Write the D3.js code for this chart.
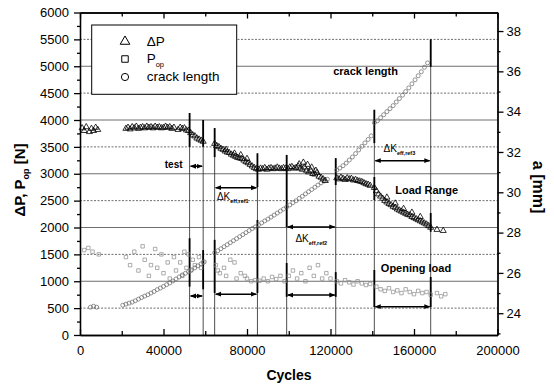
<!DOCTYPE html>
<html>
<head>
<meta charset="utf-8">
<script src="https://cdn.jsdelivr.net/npm/d3@7/dist/d3.min.js"></script>
<style>
	body { margin: 0; background: #fff; }
	svg, svg text { font-family: Arial, "Liberation Sans", Helvetica, sans-serif; }
</style>
</head>
<body>
<div id="chart"></div>
<script>

// DATA
// load range dP [cycles, N]
const deltaP = [
	[1000,3850],[2000,3800],[3000,3870],[4500,3780],[5500,3840],[6500,3800],[7500,3860],[8500,3820],
	[22000,3840],[23000,3860],[24000,3830],[25000,3870],[26000,3850],[27000,3880],[28000,3840],[29000,3860],
	[30000,3870],[31000,3850],[32000,3880],[33000,3860],[34000,3870],[35000,3850],[36000,3880],[37000,3860],
	[38000,3870],[39000,3850],[40000,3860],[41000,3880],[42000,3860],[43000,3870],[44000,3840],[45000,3860],
	[47000,3820],[48000,3860],[49000,3840],[50000,3850],[51000,3810],[52000,3800],
	[53000,3760],[54000,3720],[55000,3700],[56000,3660],[57000,3640],[58000,3620],[59000,3600],
	[64500,3560],[65500,3520],[66500,3500],[67500,3470],[68500,3450],[69500,3420],[70500,3400],[71500,3390],
	[72500,3360],[73500,3340],[74500,3320],[75500,3300],[76500,3290],[77500,3280],[78500,3250],[79500,3220],
	[80500,3200],[81500,3170],[82500,3140],[83500,3110],[84500,3090],
	[70000,3450],[74000,3380],[77000,3350],[80000,3280],
	[85500,3080],[86500,3100],[87500,3090],[88500,3110],[89500,3080],[90500,3100],[91500,3110],[92500,3090],
	[93500,3100],[94500,3120],[95500,3100],[96500,3090],[97500,3110],[98500,3100],[99500,3090],[100500,3120],
	[101500,3130],[102500,3100],[103500,3110],[104500,3140],[105500,3100],[106500,3080],[107500,3120],[108500,3060],
	[109500,3030],[110500,3060],[111500,3000],[112500,2990],[113500,3020],[114500,2950],[115500,2930],[116500,2900],
	[117500,2870],
	[105000,3180],[107000,3210],[109000,3170],[111000,3120],[113000,3060],
	[123000,2920],[124000,2900],[125000,2930],[126000,2910],[127000,2890],[128000,2920],[129000,2900],[130000,2910],
	[131000,2880],[132000,2890],[133000,2870],[134000,2860],[135000,2850],[136000,2830],[137000,2810],[138000,2800],
	[139000,2780],
	[141000,2740],[142000,2680],[143000,2620],[144000,2580],[145000,2540],[146000,2500],[147000,2470],[148000,2440],
	[149000,2420],[150000,2390],[151000,2370],[152000,2340],[153000,2320],[154000,2300],[155000,2280],[156000,2260],
	[157000,2240],[158000,2230],[159000,2200],[160000,2180],[161000,2160],[162000,2140],[163000,2120],[164000,2100],
	[165000,2080],[166000,2060],[167000,2030],[168000,2000],
	[147000,2560],[151000,2450],[155000,2350],[159000,2280],[163000,2200],
	[171000,1960],[174000,1940]
];

// opening load Pop [cycles, N]
const pOpen = [
	[2000,1580],[4000,1620],[6000,1550],[9000,1500],
	[22000,1450],[24000,1300],[26000,1550],[28000,1200],[30000,1650],[31000,1400],[33000,1100],[34000,1300],
	[36000,1600],[37000,1250],[39000,1500],[40000,1150],[42000,1350],[43000,1050],[45000,1450],[46000,1200],
	[48000,1350],[49000,1100],[50000,1550],[51000,1250],[52000,1500],[53000,1200],[54000,1400],[55000,1300],
	[57000,1450],[58000,1250],[59000,1350],
	[65000,1300],[66000,1200],[67000,1150],[69000,1250],[70000,1100],[72000,1400],[74000,1350],[75000,1050],
	[77000,1150],[79000,1100],[80000,1050],[82000,1000],[84000,1020],
	[86000,1010],[88000,1050],[90000,1000],[92000,1080],[94000,1040],[96000,1100],[98000,1000],
	[100000,1100],[102000,1200],[104000,1050],[106000,1150],[108000,1000],[110000,1250],[112000,1100],[114000,1300],
	[116000,1050],[118000,1150],[120000,1050],
	[123000,1000],[125000,960],[127000,1020],[129000,980],[131000,940],[133000,1000],[135000,960],[137000,930],
	[139000,950],
	[142000,900],[144000,850],[146000,820],[148000,870],[150000,800],[152000,830],[154000,780],[156000,850],
	[158000,800],[160000,760],[162000,820],[164000,780],[166000,800],[168000,750],
	[171000,780],[173000,720],[175000,760]
];

// crack length a [cycles, mm]
const crack = [
	[5000,24.3],[6500,24.35],[8000,24.3],
	[20500,24.4],[22000,24.45],[23500,24.5],[25000,24.55],[26500,24.62],[28000,24.7],[29500,24.78],[31000,24.85],
	[32500,24.92],[34000,25.0],[35500,25.08],[37000,25.17],[38500,25.25],[40000,25.33],[41500,25.42],[43000,25.5],
	[44500,25.6],[46000,25.7],[47500,25.8],[49000,25.9],[50500,25.98],[52000,26.06],[53500,26.15],[55000,26.25],
	[56500,26.35],[58000,26.45],[59500,26.55],
	[64500,27.0],[66000,27.1],[67500,27.2],[69000,27.3],[70500,27.4],[72000,27.5],[73500,27.6],[75000,27.7],
	[76500,27.8],[78000,27.9],[79500,28.0],[81000,28.1],[82500,28.2],[84000,28.28],[85500,28.38],[87000,28.48],
	[88500,28.58],[90000,28.67],[91500,28.77],[93000,28.87],[94500,28.97],[96000,29.07],[97500,29.17],[99000,29.27],
	[100500,29.37],[102000,29.48],[103500,29.58],[105000,29.7],[106500,29.8],[108000,29.92],[109500,30.03],[111000,30.14],
	[112500,30.25],[114000,30.36],[115500,30.47],[117000,30.56],[118500,30.65],
	[123000,31.1],[124500,31.2],[126000,31.32],[127500,31.45],[129000,31.6],[130500,31.75],[132000,31.92],[133500,32.1],
	[135000,32.28],[136500,32.45],[138000,32.62],[139500,32.8],
	[141000,33.45],[142500,33.55],[144000,33.7],[145500,33.85],[147000,34.0],[148500,34.15],[150000,34.3],[151500,34.48],
	[153000,34.65],[154500,34.82],[156000,35.0],[157500,35.18],[159000,35.38],[160500,35.58],[162000,35.78],[163500,35.98],
	[165000,36.2],[166500,36.42]
];

// block boundaries (cycles) and how high each marker line reaches (N)
const blockCycles = [52500, 59000, 64500, 85000, 99000, 122500, 141000, 168000];
const blockTop = [4130, 4000, 3850, 3380, 3350, 3290, 4190, 5500];
// heavy parts of the boundary lines [cycles, from N, to N]
const blockHeavy = [
	[52500,3500,4130],[52500,900,1800],[59000,3500,4000],[59000,850,1580],
	[64500,3310,3850],[64500,780,1770],[85000,2750,3380],[85000,780,2140],
	[99000,2010,3350],[99000,710,1340],[122500,2790,3290],[122500,710,1170],
	[141000,3570,4190],[141000,2510,2940],[141000,520,1210],
	[168000,4990,5500],[168000,1920,2270],[168000,520,1080]
];

// range arrows
const rangeFrom = [52500, 52500, 64500, 64500, 99000, 99000, 141000, 141000];
const rangeTo = [59000, 59000, 85000, 85000, 122500, 122500, 168000, 168000];
const rangeLevel = [3140, 726, 2740, 760, 2010, 744, 3243, 527];

// text notes
const noteText = ["crack length", "Load Range", "Opening load", "test"];
const noteX = [136800, 166080, 160950, 44880];
const noteY = [4828, 2614, 1172, 3101];

const refSub = ["eff,ref1", "eff,ref2", "eff,ref3"];
const refX = [65600, 103200, 145400];
const refY = [2512, 1730, 3405];

// ticks
const xTicks = [0, 40000, 80000, 120000, 160000, 200000];
const xMinor = [20000, 60000, 100000, 140000, 180000];
const yTicks = d3.range(0, 6001, 500);
const yMinor = d3.range(250, 6000, 500);
const aTicks = [24, 26, 28, 30, 32, 34, 36, 38];
const aMinor = [23, 25, 27, 29, 31, 33, 35, 37];


// CHART
function drawChart() {
	const w = 554;
	const h = 386;
	const left = 80, right = 497.5, top = 12.5, bottom = 335;

	const x = d3.scaleLinear().domain([0, 200000]).range([left, right]);
	const y = d3.scaleLinear().domain([0, 6000]).range([bottom, top]);
	const yA = d3.scaleLinear().domain([22.92, 38.92]).range([bottom, top]);

	const svg = d3.select("#chart")
		.append("svg")
		.attr("width", w)
		.attr("height", h);

	// arrow head
	svg.append("defs").append("marker")
		.attr("id", "head")
		.attr("viewBox", "0 0 10 10")
		.attr("refX", 9).attr("refY", 5)
		.attr("markerWidth", 4).attr("markerHeight", 4)
		.attr("orient", "auto-start-reverse")
		.append("path")
		.attr("d", "M0,1L10,5L0,9z")
		.attr("fill", "#000");

	// grid
	svg.append("g")
		.selectAll("line")
		.data(yTicks.filter(v => v > 0 && v < 6000))
		.join("line")
		.attr("x1", left).attr("x2", right)
		.attr("y1", d => y(d)).attr("y2", d => y(d))
		.attr("stroke", "#4a4a4a")
		.attr("stroke-width", 0.8)
		.attr("stroke-dasharray", d => d % 1000 === 0 ? null : "2,1.5");

	// block lines
	svg.append("g")
		.selectAll("line")
		.data(blockCycles)
		.join("line")
		.attr("x1", d => x(d)).attr("x2", d => x(d))
		.attr("y1", bottom).attr("y2", (d, i) => y(blockTop[i]))
		.attr("stroke", "#222")
		.attr("stroke-width", 0.8);
	svg.append("g")
		.selectAll("line")
		.data(blockHeavy)
		.join("line")
		.attr("x1", d => x(d[0])).attr("x2", d => x(d[0]))
		.attr("y1", d => y(d[1])).attr("y2", d => y(d[2]))
		.attr("stroke", "#000")
		.attr("stroke-width", 1.8);

	// range arrows
	svg.append("g")
		.selectAll("line")
		.data(rangeLevel)
		.join("line")
		.attr("x1", (d, i) => x(rangeFrom[i]) + 1).attr("x2", (d, i) => x(rangeTo[i]) - 1)
		.attr("y1", d => y(d)).attr("y2", d => y(d))
		.attr("stroke", "#000")
		.attr("stroke-width", 1.5)
		.attr("marker-start", "url(#head)")
		.attr("marker-end", "url(#head)");

	// opening load
	const sq = d3.symbol(d3.symbolSquare, 12)();
	svg.append("g")
		.selectAll("path")
		.data(pOpen)
		.join("path")
		.attr("d", sq)
		.attr("transform", d => `translate(${x(d[0])},${y(d[1])})`)
		.attr("fill", "none")
		.attr("stroke", "#8a8a8a")
		.attr("stroke-width", 0.7);

	// crack length
	svg.append("g")
		.selectAll("circle")
		.data(crack)
		.join("circle")
		.attr("cx", d => x(d[0]))
		.attr("cy", d => yA(d[1]))
		.attr("r", 2)
		.attr("fill", "none")
		.attr("stroke", "#666")
		.attr("stroke-width", 0.7);

	// load range
	const tri = d3.symbol(d3.symbolTriangle, 16)();
	svg.append("g")
		.selectAll("path")
		.data(deltaP)
		.join("path")
		.attr("d", tri)
		.attr("transform", d => `translate(${x(d[0])},${y(d[1])})`)
		.attr("fill", "none")
		.attr("stroke", "#000")
		.attr("stroke-width", 0.8);

	// axes
	const fmt = d3.format("d");
	const styleAxis = g => {
		g.attr("font-family", null).attr("font-size", null);
		g.selectAll("path, line").attr("stroke", "#000").attr("stroke-width", 1.3);
		g.selectAll("text").attr("fill", "#000").style("font-size", "13px");
	};
	svg.append("g")
		.attr("transform", `translate(${left},0)`)
		.call(d3.axisLeft(y).tickValues(yTicks).tickSize(6).tickSizeOuter(0).tickPadding(5).tickFormat(fmt))
		.call(styleAxis);
	svg.append("g")
		.attr("transform", `translate(${left},0)`)
		.call(d3.axisLeft(y).tickValues(yMinor).tickSize(3).tickSizeOuter(0).tickFormat(""))
		.call(styleAxis);
	svg.append("g")
		.attr("transform", `translate(0,${bottom})`)
		.call(d3.axisBottom(x).tickValues(xTicks).tickSize(-6).tickSizeOuter(0).tickPadding(11).tickFormat(fmt))
		.call(styleAxis);
	svg.append("g")
		.attr("transform", `translate(0,${bottom})`)
		.call(d3.axisBottom(x).tickValues(xMinor).tickSize(-4).tickSizeOuter(0).tickFormat(""))
		.call(styleAxis);
	svg.append("g")
		.attr("transform", `translate(0,${top})`)
		.call(d3.axisTop(x).tickValues(xTicks).tickSize(-6).tickSizeOuter(0).tickFormat(""))
		.call(styleAxis);
	svg.append("g")
		.attr("transform", `translate(0,${top})`)
		.call(d3.axisTop(x).tickValues(xMinor).tickSize(-4).tickSizeOuter(0).tickFormat(""))
		.call(styleAxis);
	svg.append("g")
		.attr("transform", `translate(${right},0)`)
		.call(d3.axisRight(yA).tickValues(aTicks).tickSize(6).tickSizeOuter(0).tickPadding(3).tickFormat(fmt))
		.call(styleAxis);
	svg.append("g")
		.attr("transform", `translate(${right},0)`)
		.call(d3.axisRight(yA).tickValues(aMinor).tickSize(3).tickSizeOuter(0).tickFormat(""))
		.call(styleAxis);

	// axis titles
	svg.append("text")
		.text("Cycles")
		.attr("x", 289).attr("y", 380)
		.attr("text-anchor", "middle")
		.style("font-size", "14px").style("font-weight", "bold");
	const yTitle = svg.append("text")
		.attr("transform", "translate(25,180) rotate(-90)")
		.attr("text-anchor", "middle")
		.style("font-size", "15px").style("font-weight", "bold");
	yTitle.append("tspan").text("\u0394P, P");
	yTitle.append("tspan").text("op").attr("dy", 4).style("font-size", "9px");
	yTitle.append("tspan").text(" [N]").attr("dy", -4);
	svg.append("text")
		.text("a [mm]")
		.attr("transform", "translate(533,187) rotate(90)")
		.attr("text-anchor", "middle")
		.style("font-size", "16px").style("font-weight", "bold");

	// notes
	svg.append("g")
		.selectAll("text")
		.data(noteText)
		.join("text")
		.text(d => d)
		.attr("x", (d, i) => x(noteX[i]))
		.attr("y", (d, i) => y(noteY[i]))
		.attr("text-anchor", "middle")
		.style("font-size", d => d === "test" ? "10px" : "11px")
		.style("font-weight", "bold");
	const refs = svg.append("g")
		.selectAll("text")
		.data(refSub)
		.join("text")
		.attr("x", (d, i) => x(refX[i]))
		.attr("y", (d, i) => y(refY[i]))
		.style("font-size", "10px");
	refs.append("tspan").text("\u0394K");
	refs.append("tspan").text(d => d).attr("dy", 3).style("font-size", "5.5px").style("font-weight", "bold");

	// legend
	const lg = svg.append("g");
	lg.append("rect")
		.attr("x", 91.7).attr("y", 25).attr("width", 145).attr("height", 69.3)
		.attr("fill", "#fff").attr("stroke", "#000").attr("stroke-width", 1);
	lg.append("path").attr("d", d3.symbol(d3.symbolTriangle, 40)())
		.attr("transform", "translate(125,41.5)").attr("fill", "none").attr("stroke", "#000");
	lg.append("path").attr("d", d3.symbol(d3.symbolSquare, 42)())
		.attr("transform", "translate(125,59)").attr("fill", "none").attr("stroke", "#000");
	lg.append("circle").attr("cx", 125).attr("cy", 77).attr("r", 3.6)
		.attr("fill", "none").attr("stroke", "#000");
	lg.append("text").text("\u0394P").attr("x", 146.7).attr("y", 45.5).style("font-size", "13.5px");
	const lp = lg.append("text").attr("x", 146.7).attr("y", 63).style("font-size", "13.5px");
	lp.append("tspan").text("P");
	lp.append("tspan").text("op").attr("dy", 4).style("font-size", "7.5px");
	lg.append("text").text("crack length").attr("x", 146.7).attr("y", 80.5).style("font-size", "13.5px");
}

document.addEventListener("DOMContentLoaded", () => {
	drawChart();
});
</script>
</body>
</html>
